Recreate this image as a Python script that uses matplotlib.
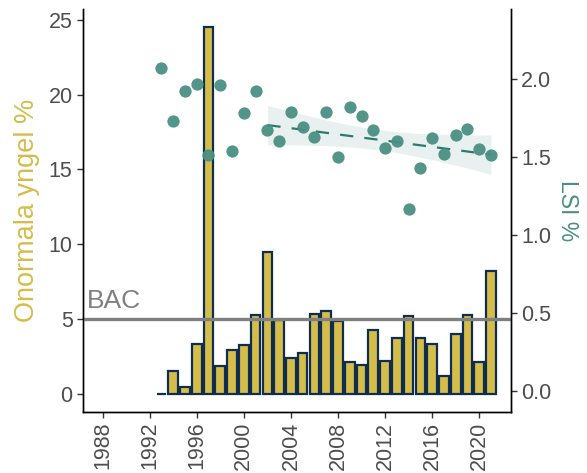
import numpy as np
import matplotlib
matplotlib.use("Agg")
import matplotlib.pyplot as plt

plt.rcParams["font.family"] = ["Liberation Sans", "DejaVu Sans"]

# data
years = list(range(1993, 2022))
onormala = [0.0, 1.5, 0.45, 3.3, 24.5, 1.85, 2.9, 3.25, 5.25, 9.5,
            4.95, 2.4, 2.7, 5.3, 5.55, 4.85, 2.15, 1.95, 4.25, 2.2,
            3.7, 5.2, 3.75, 3.3, 1.15, 4.0, 5.25, 2.15, 8.2]
lsi = [2.07, 1.73, 1.92, 1.97, 1.51, 1.96, 1.54, 1.78, 1.92, 1.67,
       1.60, 1.79, 1.69, 1.63, 1.79, 1.50, 1.82, 1.76, 1.67, 1.56,
       1.60, 1.17, 1.43, 1.62, 1.52, 1.64, 1.68, 1.55, 1.51]
trend_start = 2002
bac = 5
xticks = list(range(1988, 2021, 4))

gold = "#d4bd4a"
navy = "#0e2d4f"
teal = "#4b8f84"
grey_txt = "#4d4d4d"

fig = plt.figure(figsize=(5.87, 4.73), dpi=100)
ax1 = fig.add_axes([0.1414, 0.129, 0.870 - 0.1414, 0.981 - 0.129])
ax2 = ax1.twinx()

# bars + BAC line on the left axis
ax1.bar(years, onormala, width=0.82, color=gold, edgecolor=navy, linewidth=1.6, zorder=2)
ax1.axhline(bac, color="#808080", linewidth=2.4, zorder=3)
ax1.text(1986.7, bac + 0.4, "BAC", color="#808080", fontsize=19, va="bottom", ha="left")

# linear trend with 95% band on LSI from 2002
yrs = np.array(years, dtype=float)
vals = np.array(lsi)
m = yrs >= trend_start
xs, ys = yrs[m], vals[m]
b1, b0 = np.polyfit(xs, ys, 1)
n = len(xs)
resid = ys - (b0 + b1 * xs)
s = np.sqrt(np.sum(resid ** 2) / (n - 2))
xg = np.linspace(xs.min(), xs.max(), 80)
yg = b0 + b1 * xg
se = s * np.sqrt(1 / n + (xg - xs.mean()) ** 2 / np.sum((xs - xs.mean()) ** 2))
t_crit = 2.101
ax2.fill_between(xg, yg - t_crit * se, yg + t_crit * se, color=teal, alpha=0.12, linewidth=0, zorder=1)
ax2.plot(xg, yg, color="#2f7a6d", linewidth=1.6, dashes=(6, 5), zorder=2)
ax2.scatter(years, lsi, s=78, color=teal, alpha=0.95, linewidths=0, zorder=3)

ax1.set_xlim(1986.34, 2022.67)
ax1.set_ylim(-1.225, 25.725)
ax2.set_ylim(-0.133, 2.448)

ax1.set_xticks(xticks)
ax1.set_xticklabels([str(y) for y in xticks], rotation=90)
ax1.set_yticks([0, 5, 10, 15, 20, 25])
ax2.set_yticks([0.0, 0.5, 1.0, 1.5, 2.0])
ax2.set_yticklabels(["0.0", "0.5", "1.0", "1.5", "2.0"])

for ax in (ax1, ax2):
    ax.spines["top"].set_visible(False)
    for sp in ax.spines.values():
        sp.set_linewidth(1.0)
        sp.set_color("black")
    ax.tick_params(labelsize=15.5, labelcolor=grey_txt, color="#333333", length=4, width=1)
ax1.tick_params(axis="x", pad=3)

ax1.set_ylabel("Onormala yngel %", color=gold, fontsize=19.5, labelpad=6)
ax2.set_ylabel("LSI %", color=teal, fontsize=16.5, rotation=270, labelpad=20)

fig.savefig("out.png", dpi=100)
